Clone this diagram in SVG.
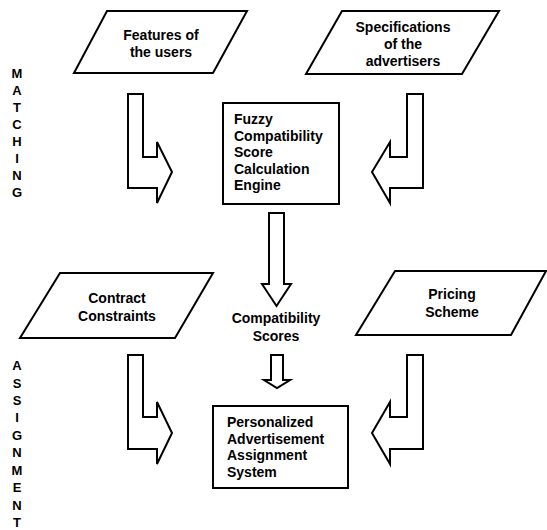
<svg xmlns="http://www.w3.org/2000/svg" width="547" height="530" viewBox="0 0 547 530">
<style>
.shape{fill:#fff;stroke:#000;stroke-width:2;stroke-linejoin:miter}
.t{font-family:"Liberation Sans",Arial,sans-serif;font-weight:bold;font-size:14px;fill:#000}
.c{text-anchor:middle}
.v{font-family:"Liberation Sans",Arial,sans-serif;font-weight:bold;font-size:13px;fill:#000;text-anchor:middle}
</style>
<rect width="547" height="530" fill="#fff"/>
<g id="features">
<polygon class="shape" points="107,11 247,11 213,73 74,73"/>
<text class="t c" x="161" y="40">Features of</text>
<text class="t c" x="161" y="57">the users</text>
</g>
<g id="specifications">
<polygon class="shape" points="342,11 499,11 462,74 306,74"/>
<text class="t c" x="403" y="32">Specifications</text>
<text class="t c" x="403" y="49">of the</text>
<text class="t c" x="403" y="66">advertisers</text>
</g>
<g id="fuzzy">
<rect class="shape" x="223" y="103" width="116" height="101"/>
<text class="t" x="234" y="124">Fuzzy</text>
<text class="t" x="234" y="140.5">Compatibility</text>
<text class="t" x="234" y="157">Score</text>
<text class="t" x="234" y="173.5">Calculation</text>
<text class="t" x="234" y="190">Engine</text>
</g>
<g id="contract">
<polygon class="shape" points="60,273 213,273 175,338 20,338"/>
<text class="t c" x="117" y="303">Contract</text>
<text class="t c" x="117" y="321">Constraints</text>
</g>
<g id="pricing">
<polygon class="shape" points="395,271 546,271 511,335 356,335"/>
<text class="t c" x="452" y="299">Pricing</text>
<text class="t c" x="452" y="317">Scheme</text>
</g>
<g id="scores">
<text class="t c" x="276" y="323">Compatibility</text>
<text class="t c" x="276" y="341">Scores</text>
</g>
<g id="personalized">
<rect class="shape" x="213" y="406" width="135" height="82"/>
<text class="t" x="227" y="427">Personalized</text>
<text class="t" x="227" y="443.5">Advertisement</text>
<text class="t" x="227" y="460">Assignment</text>
<text class="t" x="227" y="476.5">System</text>
</g>
<g id="label-matching">
<text class="v" x="17" y="78">M</text>
<text class="v" x="17" y="95">A</text>
<text class="v" x="17" y="112">T</text>
<text class="v" x="17" y="129">C</text>
<text class="v" x="17" y="146">H</text>
<text class="v" x="17" y="163">I</text>
<text class="v" x="17" y="180">N</text>
<text class="v" x="17" y="197">G</text>
</g>
<g id="label-assignment">
<text class="v" x="17" y="370">A</text>
<text class="v" x="17" y="387.5">S</text>
<text class="v" x="17" y="405">S</text>
<text class="v" x="17" y="422">I</text>
<text class="v" x="17" y="439.5">G</text>
<text class="v" x="17" y="457">N</text>
<text class="v" x="17" y="474.5">M</text>
<text class="v" x="17" y="492">E</text>
<text class="v" x="17" y="509.5">N</text>
<text class="v" x="17" y="527">T</text>
</g>
<g id="connectors">
<polygon class="shape" points="128,94 143,94 143,157 157,157 157,142 172,172 157,203 157,188 128,188"/>
<polygon class="shape" points="423,94 407,94 407,157 390,157 390,142 372,172 390,203 390,188 423,188"/>
<polygon class="shape" points="269,213 284,213 284,284 291,284 276.5,306 262,284 269,284"/>
<polygon class="shape" points="128,355 143,355 143,417 157,417 157,402 172,433 157,464 157,449 128,449"/>
<polygon class="shape" points="423,355 407,355 407,417 390,417 390,402 372,433 390,464 390,449 423,449"/>
<polygon class="shape" points="271,355 283,355 283,380 290,380 277,388 264,380 271,380"/>
</g>
</svg>
